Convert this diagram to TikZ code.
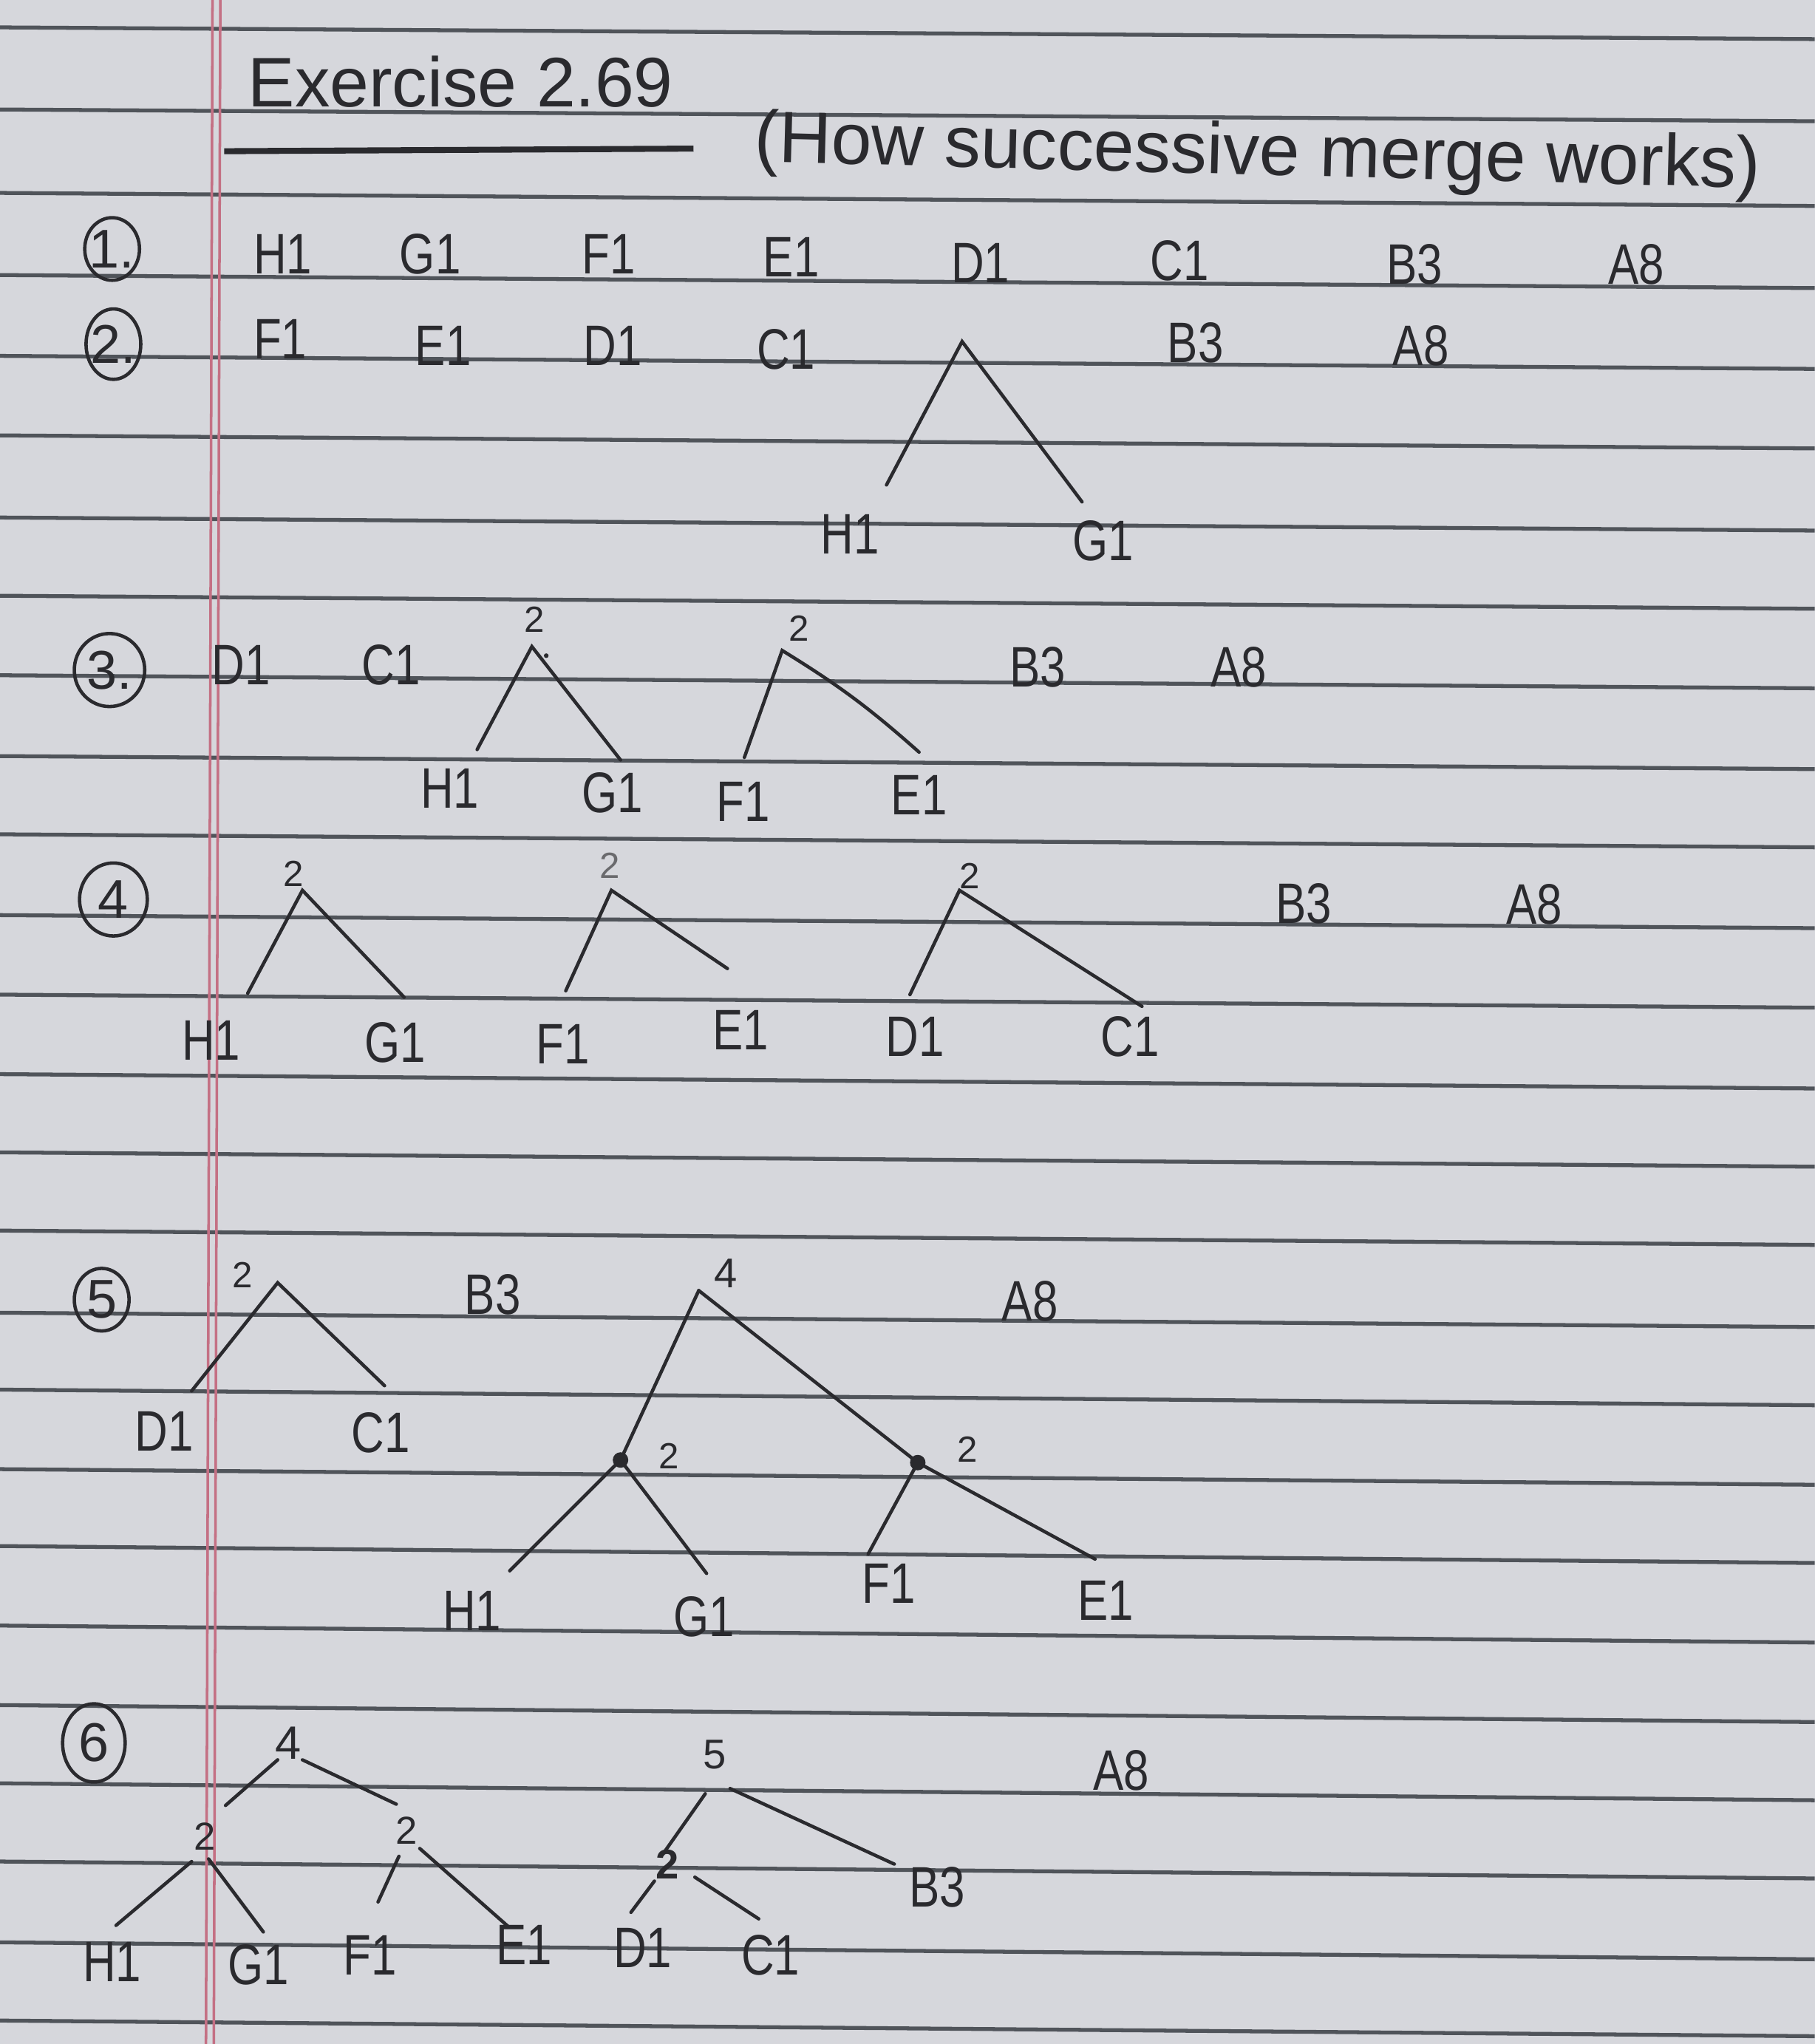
\documentclass[tikz,border=0pt]{standalone}
\usepackage{fontspec}
\setmainfont{Liberation Sans}
\usepackage{graphicx}
\definecolor{paper}{RGB}{214,215,220}
\definecolor{ink}{RGB}{42,42,46}
\definecolor{rulec}{RGB}{80,84,90}
\definecolor{marginc}{RGB}{196,112,132}
\newcommand\hw[1]{\scalebox{0.8}[1]{#1}}
\begin{document}
\begin{tikzpicture}[x=0.017644cm,y=-0.017644cm,
  ruled/.style={draw=rulec,line width=1.5pt},
  branch/.style={draw=ink,line width=1.3pt,line cap=round},
  leaf/.style={text=ink,inner sep=0pt,font=\fontsize{22}{22}\selectfont},
  wgt/.style={text=ink,inner sep=0pt,font=\fontsize{14}{14}\selectfont},
  bigwgt/.style={text=ink,inner sep=0pt,font=\fontsize{16}{16}\selectfont},
  numlab/.style={text=ink,inner sep=0pt,font=\fontsize{21}{21}\selectfont},
  ring/.style={draw=ink,line width=1.3pt},
  dotn/.style={circle,fill=ink,inner sep=0pt,minimum size=0.21cm}]
% paper
\fill[paper] (0,0) rectangle (1392,1568);
\useasboundingbox (0,0) rectangle (1392,1568);
% ruled lines
\foreach \yy/\dd in {21/9,84/9,148/10,211/10,273/10,334/10,397/10,457/10,518/10,580/10,640/10,702/10,763/10,824/11,884/11,944/11,1007/11,1066/12,1127/12,1186/13,1247/13,1308/13,1368/13,1428/13,1490/13,1550/12}
  \draw[ruled] (0,\yy) -- (1392,\yy+\dd);
% margin
\draw[marginc,line width=1pt] (163,0) -- (158,1568);
\draw[marginc,line width=1pt] (169,0) -- (164,1568);

% title
\node[text=ink,inner sep=0pt,anchor=base west,font=\fontsize{27}{27}\selectfont] (title) at (190,82) {Exercise 2.69};
\coordinate (ulA) at (172,116);
\coordinate (ulB) at (532,114);
\draw[ink,line width=2.3pt] (ulA) -- (ulB);
\node[text=ink,inner sep=0pt,anchor=base west,rotate=-1.5,font=\fontsize{28}{28}\selectfont] (subtitle) at (578,124) {(How successive merge works)};

% row numbers
\node[numlab] (n1) at (86,191) {1.};
\draw[ring] (n1.center) ellipse [x radius=21, y radius=24];
\node[numlab] (n2) at (87,264) {2.};
\draw[ring] (n2.center) ellipse [x radius=21, y radius=27];
\node[numlab] (n3) at (84,514) {3.};
\draw[ring] (n3.center) ellipse [x radius=27, y radius=28];
\node[numlab] (n4) at (87,690) {4};
\draw[ring] (n4.center) ellipse [x radius=26, y radius=28];
\node[numlab] (n5) at (78,997) {5};
\draw[ring] (n5.center) ellipse [x radius=21, y radius=24];
\node[numlab] (n6) at (72,1337) {6};
\draw[ring] (n6.center) ellipse [x radius=24, y radius=30];

% ---- row 1
\node[leaf] (a1H) at (217,195) {\hw{H1}};
\node[leaf] (a1G) at (330,195) {\hw{G1}};
\node[leaf] (a1F) at (467,195) {\hw{F1}};
\node[leaf] (a1E) at (607,197) {\hw{E1}};
\node[leaf] (a1D) at (752,202) {\hw{D1}};
\node[leaf] (a1C) at (905,200) {\hw{C1}};
\node[leaf] (a1B) at (1085,203) {\hw{B3}};
\node[leaf] (a1A) at (1255,203) {\hw{A8}};

% ---- row 2
\node[leaf] (a2F) at (215,260) {\hw{F1}};
\node[leaf] (a2E) at (340,265) {\hw{E1}};
\node[leaf] (a2D) at (470,265) {\hw{D1}};
\node[leaf] (a2C) at (603,268) {\hw{C1}};
\node[leaf] (a2B) at (917,263) {\hw{B3}};
\node[leaf] (a2A) at (1090,265) {\hw{A8}};
\node[leaf] (a2H) at (652,410) {\hw{H1}};
\node[leaf] (a2G) at (846,415) {\hw{G1}};
\coordinate (t2top) at (738,262);
\coordinate (t2l) at (680,372);
\coordinate (t2r) at (830,385);
\draw[branch] (t2l) -- (t2top) -- (t2r);

% ---- row 3
\node[leaf] (a3D) at (185,510) {\hw{D1}};
\node[leaf] (a3C) at (300,510) {\hw{C1}};
\node[leaf] (a3B) at (796,512) {\hw{B3}};
\node[leaf] (a3A) at (950,512) {\hw{A8}};
\node[wgt] (w3a) at (410,475) {2};
\node[wgt] (w3b) at (613,482) {2};
\coordinate (t3a) at (408,496);
\coordinate (t3al) at (366,575);
\coordinate (t3ar) at (476,583);
\draw[branch] (t3al) -- (t3a) -- (t3ar);
\fill[ink] (419,503) circle [radius=1.8];
\coordinate (t3b) at (600,499);
\coordinate (t3bl) at (571,581);
\coordinate (t3br) at (705,577);
\draw[branch] (t3bl) -- (t3b) to[bend left=5] (t3br);
\node[leaf] (a3H) at (345,605) {\hw{H1}};
\node[leaf] (a3G) at (470,608) {\hw{G1}};
\node[leaf] (a3F) at (570,615) {\hw{F1}};
\node[leaf] (a3E) at (705,610) {\hw{E1}};

% ---- row 4
\node[wgt] (w4a) at (225,670) {2};
\node[wgt,text=ink!70] (w4b) at (468,664) {2};
\node[wgt] (w4c) at (744,672) {2};
\coordinate (t4a) at (232,683);
\coordinate (t4al) at (190,762);
\coordinate (t4ar) at (310,765);
\draw[branch] (t4al) -- (t4a) -- (t4ar);
\coordinate (t4b) at (469,683);
\coordinate (t4bl) at (434,760);
\coordinate (t4br) at (558,743);
\draw[branch] (t4bl) -- (t4b) -- (t4br);
\coordinate (t4c) at (736,683);
\coordinate (t4cl) at (698,763);
\coordinate (t4cr) at (876,772);
\draw[branch] (t4cl) -- (t4c) -- (t4cr);
\node[leaf] (a4B) at (1000,693) {\hw{B3}};
\node[leaf] (a4A) at (1177,694) {\hw{A8}};
\node[leaf] (a4H) at (162,798) {\hw{H1}};
\node[leaf] (a4G) at (303,800) {\hw{G1}};
\node[leaf] (a4F) at (432,801) {\hw{F1}};
\node[leaf] (a4E) at (568,790) {\hw{E1}};
\node[leaf] (a4D) at (702,795) {\hw{D1}};
\node[leaf] (a4C) at (867,795) {\hw{C1}};

% ---- row 5
\node[wgt] (w5a) at (186,978) {2};
\coordinate (t5a) at (213,984);
\coordinate (t5al) at (147,1067);
\coordinate (t5ar) at (295,1063);
\draw[branch] (t5al) -- (t5a) -- (t5ar);
\node[leaf] (a5D) at (126,1098) {\hw{D1}};
\node[leaf] (a5C) at (292,1099) {\hw{C1}};
\node[leaf] (a5B) at (378,993) {\hw{B3}};
\node[leaf] (a5A) at (790,998) {\hw{A8}};
\node[bigwgt] (w5top) at (557,977) {4};
\coordinate (t5top) at (536,990);
\node[dotn] (t5L) at (476,1120) {};
\node[dotn] (t5R) at (704,1122) {};
\node[wgt] (w5L) at (513,1117) {2};
\node[wgt] (w5R) at (742,1112) {2};
\draw[branch] (t5top) -- (t5L.center);
\draw[branch] (t5top) -- (t5R.center);
\coordinate (t5Ll) at (391,1205);
\coordinate (t5Lr) at (542,1207);
\coordinate (t5Rl) at (666,1192);
\coordinate (t5Rr) at (840,1196);
\draw[branch] (t5Ll) -- (t5L.center) -- (t5Lr);
\draw[branch] (t5Rl) -- (t5R.center) -- (t5Rr);
\node[leaf] (a5H) at (362,1236) {\hw{H1}};
\node[leaf] (a5G) at (540,1240) {\hw{G1}};
\node[leaf] (a5F) at (682,1215) {\hw{F1}};
\node[leaf] (a5E) at (848,1228) {\hw{E1}};

% ---- row 6
\node[bigwgt,font=\fontsize{18}{18}\selectfont] (w6top) at (221,1337) {4};
\coordinate (t6tl) at (213,1350);
\coordinate (t6tr) at (232,1350);
\coordinate (t6l1) at (173,1385);
\coordinate (t6r1) at (304,1384);
\draw[branch] (t6tl) -- (t6l1);
\draw[branch] (t6tr) -- (t6r1);
\node[wgt,font=\fontsize{15}{15}\selectfont] (w6L) at (157,1409) {2};
\node[wgt,font=\fontsize{15}{15}\selectfont] (w6R) at (312,1404) {2};
\coordinate (t6La) at (147,1428);
\coordinate (t6Lb) at (160,1426);
\coordinate (t6Ll) at (89,1477);
\coordinate (t6Lr) at (202,1482);
\draw[branch] (t6La) -- (t6Ll);
\draw[branch] (t6Lb) -- (t6Lr);
\coordinate (t6Ra) at (306,1424);
\coordinate (t6Rb) at (322,1418);
\coordinate (t6Rl) at (290,1459);
\coordinate (t6Rr) at (390,1478);
\draw[branch] (t6Ra) -- (t6Rl);
\draw[branch] (t6Rb) -- (t6Rr);
\node[bigwgt] (w6m) at (548,1346) {5};
\coordinate (t6ma) at (541,1376);
\coordinate (t6mb) at (560,1372);
\coordinate (t6ml) at (508,1423);
\coordinate (t6mr) at (686,1430);
\draw[branch] (t6ma) -- (t6ml);
\draw[branch] (t6mb) -- (t6mr);
\node[wgt,font=\bfseries\fontsize{16}{16}\selectfont] (w6b) at (512,1430) {2};
\coordinate (t6ba) at (502,1443);
\coordinate (t6bb) at (533,1440);
\coordinate (t6bl) at (484,1467);
\coordinate (t6br) at (582,1472);
\draw[branch] (t6ba) -- (t6bl);
\draw[branch] (t6bb) -- (t6br);
\node[leaf] (a6H) at (86,1505) {\hw{H1}};
\node[leaf] (a6G) at (198,1507) {\hw{G1}};
\node[leaf] (a6F) at (284,1500) {\hw{F1}};
\node[leaf] (a6E) at (402,1492) {\hw{E1}};
\node[leaf] (a6D) at (493,1494) {\hw{D1}};
\node[leaf] (a6C) at (591,1500) {\hw{C1}};
\node[leaf] (a6B) at (719,1448) {\hw{B3}};
\node[leaf] (a6A) at (860,1358) {\hw{A8}};
\end{tikzpicture}
\end{document}
